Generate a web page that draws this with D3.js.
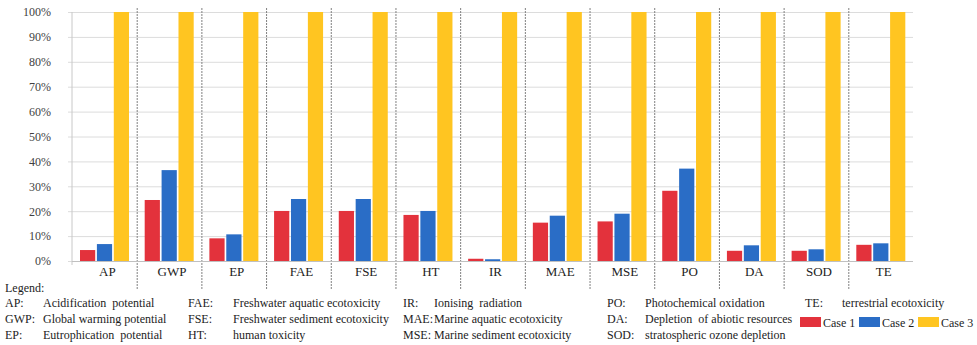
<!DOCTYPE html>
<html>
<head>
<meta charset="utf-8">
<script src="https://cdn.jsdelivr.net/npm/d3@7"></script>
<style>
  html, body { margin: 0; padding: 0; background: #fff; }
  svg { display: block; }
</style>
</head>
<body>
<svg id="chart" width="977" height="345"></svg>
<script>
// Impact categories and relative scores (share of the highest case)
const categories = ["AP", "GWP", "EP", "FAE", "FSE", "HT", "IR", "MAE", "MSE", "PO", "DA", "SOD", "TE"];
const seriesNames = ["Case 1", "Case 2", "Case 3"];
const case1 = [0.044, 0.245, 0.091, 0.201, 0.201, 0.185, 0.009, 0.154, 0.159, 0.282, 0.041, 0.041, 0.065];
const case2 = [0.068, 0.365, 0.107, 0.249, 0.249, 0.201, 0.007, 0.182, 0.190, 0.371, 0.063, 0.047, 0.071];
const case3 = [1, 1, 1, 1, 1, 1, 1, 1, 1, 1, 1, 1, 1];
const yTicks = [0, 0.1, 0.2, 0.3, 0.4, 0.5, 0.6, 0.7, 0.8, 0.9, 1];
const colors = ["#e3323c", "#2a6dc6", "#ffc521"];

// Legend glossary, three rows per column
const legendAbbr = ["AP:", "GWP:", "EP:", "FAE:", "FSE:", "HT:", "IR:", "MAE:", "MSE:", "PO:", "DA:", "SOD:", "TE:"];
const legendText = [
  "Acidification  potential", "Global warming potential", "Eutrophication  potential",
  "Freshwater aquatic ecotoxicity", "Freshwater sediment ecotoxicity", "human toxicity",
  "Ionising  radiation", "Marine aquatic ecotoxicity", "Marine sediment ecotoxicity",
  "Photochemical oxidation", "Depletion  of abiotic resources", "stratospheric ozone depletion",
  "terrestrial ecotoxicity"
];

const FONT = "'Liberation Serif', 'Times New Roman', serif";
const svg = d3.select("#chart");
const plot = { left: 72, right: 913, top: 12, bottom: 261 };

const x0 = d3.scaleBand().domain(categories).range([plot.left, plot.right]).padding(0);
const x1 = d3.scaleBand().domain(seriesNames).range([8, 57]).paddingInner(0.1);
const y = d3.scaleLinear().domain([0, 1]).range([plot.bottom, plot.top]);

// Horizontal gridlines with short outer ticks
const yAxis = d3.axisLeft(y).tickValues(yTicks)
  .tickFormat(d3.format(".0%"))
  .tickSize(-(plot.right - plot.left)).tickSizeOuter(0).tickPadding(21);
const gy = svg.append("g").attr("transform", `translate(${plot.left},0)`).call(yAxis);
gy.select(".domain").remove();
gy.selectAll(".tick line").attr("stroke", "#dcdcdc").attr("x1", -4);
gy.selectAll(".tick text")
  .attr("fill", "#3f3f3f")
  .style("font-family", FONT).style("font-size", "12px");

// Vertical axis line
svg.append("line")
  .attr("x1", plot.left).attr("x2", plot.left)
  .attr("y1", plot.top).attr("y2", plot.bottom + 4)
  .attr("stroke", "#c8c8c8");

// Dotted separators between categories
svg.append("g").selectAll("line")
  .data(categories.slice(1))
  .join("line")
  .attr("x1", d => x0(d) + 0.5).attr("x2", d => x0(d) + 0.5)
  .attr("y1", 8).attr("y2", 290)
  .attr("stroke", "#808080").attr("stroke-width", 1)
  .attr("stroke-dasharray", "2,1");

// Grouped bars
const values = [case1, case2, case3];
const rows = categories.map((c, i) => ({ cat: c, vals: seriesNames.map((s, k) => ({ s, k, v: values[k][i] })) }));
svg.append("g").selectAll("g")
  .data(rows)
  .join("g")
  .attr("transform", d => `translate(${x0(d.cat)},0)`)
  .selectAll("rect")
  .data(d => d.vals)
  .join("rect")
  .attr("x", d => x1(d.s))
  .attr("width", x1.bandwidth())
  .attr("y", d => y(d.v))
  .attr("height", d => y(0) - y(d.v))
  .attr("fill", d => colors[d.k]);

// Baseline
svg.append("line")
  .attr("x1", plot.left).attr("x2", plot.right)
  .attr("y1", plot.bottom + 0.5).attr("y2", plot.bottom + 0.5)
  .attr("stroke", "#c0c0c0");

// Category labels
const xAxis = d3.axisBottom(x0).tickSize(0).tickPadding(6);
const gx = svg.append("g").attr("transform", `translate(3,${plot.bottom})`).call(xAxis);
gx.select(".domain").remove();
gx.selectAll(".tick text")
  .attr("fill", "#222")
  .style("font-family", FONT).style("font-size", "13px");

// Glossary legend
const legend = svg.append("g").attr("fill", "#1c1c1c");
legend.append("text").attr("x", 5).attr("y", 292).text("Legend:")
  .style("font-family", FONT).style("font-size", "12px");
const colAbbrX = [5, 188, 403, 607, 805];
const colTextX = [43, 233, 434, 645, 842];
const rowY = [307, 323, 339];
legend.selectAll("text.abbr")
  .data(legendAbbr)
  .join("text").attr("class", "abbr")
  .attr("x", (d, i) => colAbbrX[Math.floor(i / 3)])
  .attr("y", (d, i) => rowY[i % 3])
  .style("font-family", FONT).style("font-size", "12px")
  .text(d => d);
legend.selectAll("text.desc")
  .data(legendText)
  .join("text").attr("class", "desc")
  .attr("x", (d, i) => colTextX[Math.floor(i / 3)])
  .attr("y", (d, i) => rowY[i % 3])
  .style("font-family", FONT).style("font-size", "12px")
  .style("white-space", "pre")
  .text(d => d);

// Series key
const keyX = [800, 859, 918];
const key = svg.append("g").selectAll("g")
  .data(seriesNames)
  .join("g")
  .attr("transform", (d, i) => `translate(${keyX[i]},317)`);
key.append("rect").attr("width", 21).attr("height", 10).attr("fill", (d, i) => colors[i]);
key.append("text").attr("x", 23).attr("y", 10)
  .attr("fill", "#1c1c1c")
  .style("font-family", FONT).style("font-size", "12px")
  .text(d => d);
</script>
</body>
</html>
